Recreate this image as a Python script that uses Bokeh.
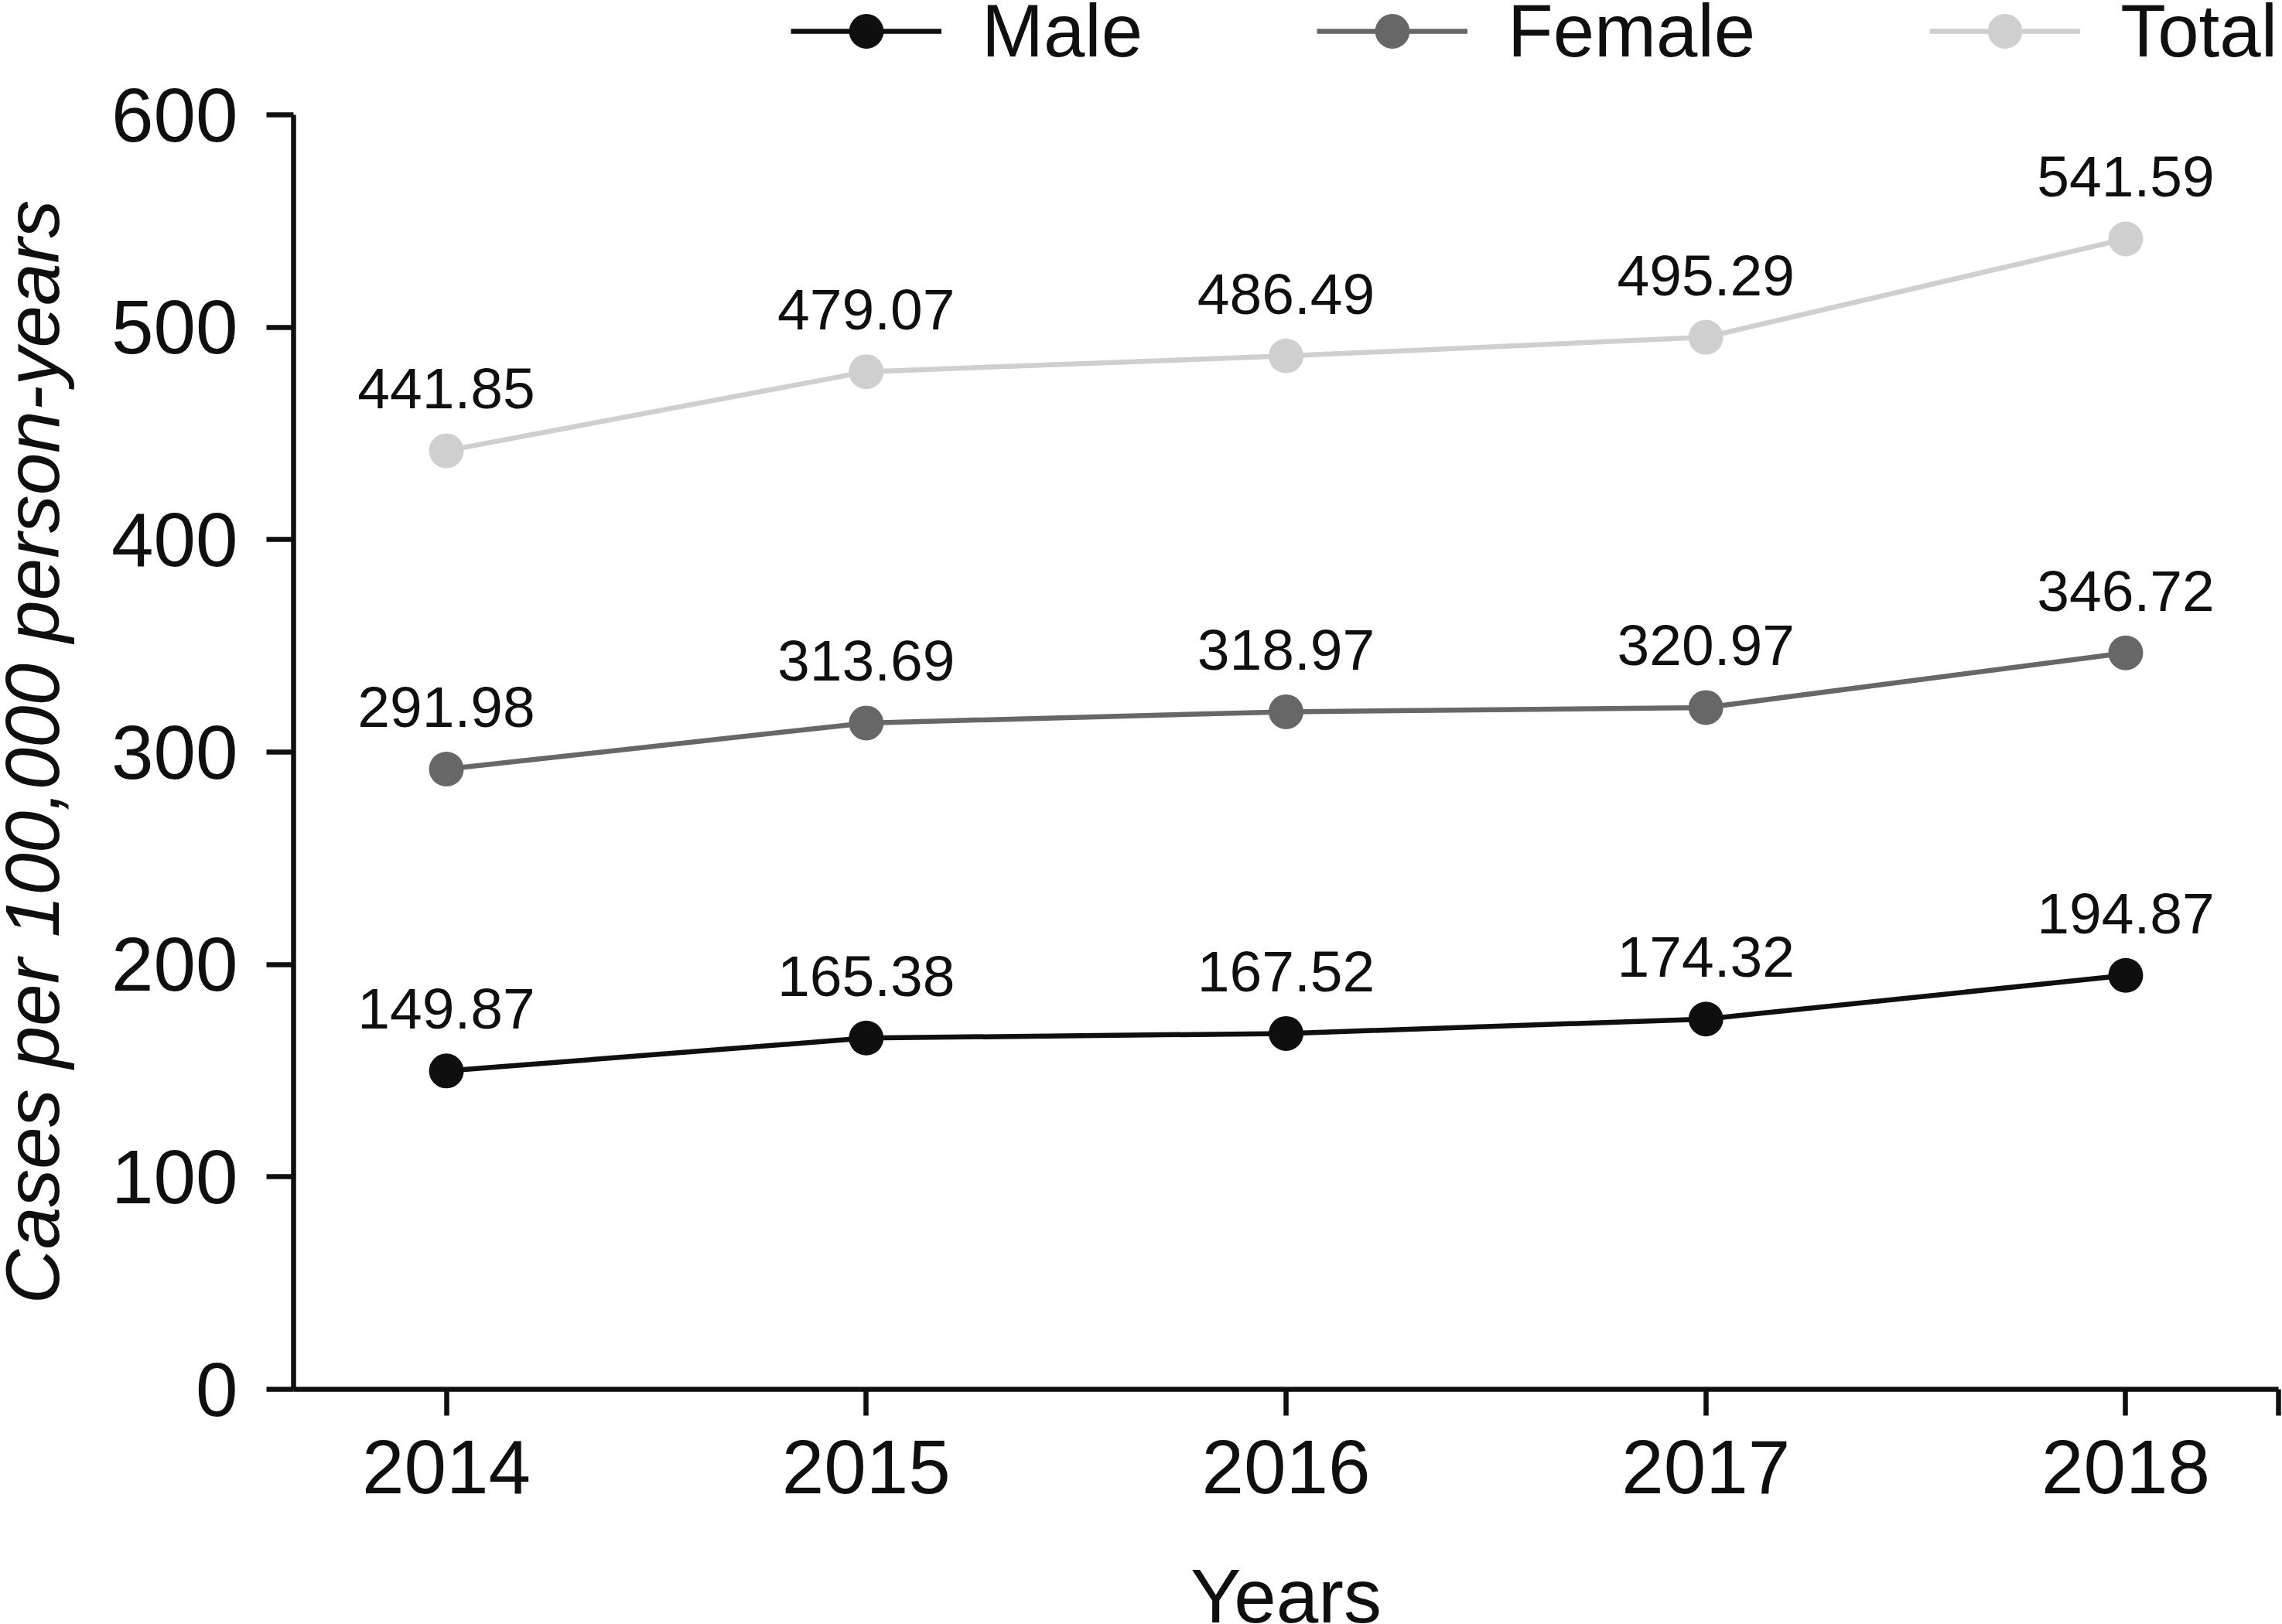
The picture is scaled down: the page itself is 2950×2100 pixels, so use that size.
import math
from bokeh.plotting import figure
from bokeh.models import (Range1d, FixedTicker, Legend, LegendItem, Label,
                          ColumnDataSource)
from bokeh.core.properties import value
from bokeh.embed import file_html
from bokeh.resources import INLINE

years = [2014, 2015, 2016, 2017, 2018]
male = [149.87, 165.38, 167.52, 174.32, 194.87]
female = [291.98, 313.69, 318.97, 320.97, 346.72]
total = [441.85, 479.07, 486.49, 495.29, 541.59]
series_names = ["Male", "Female", "Total"]
y_ticks = [0, 100, 200, 300, 400, 500, 600]
x_title = "Years"
y_title = "Cases per 100,000 person-years"

FONT = "Liberation Sans"
INK = "#0f0f0f"
colors = {"Male": "#0f0f0f", "Female": "#676767", "Total": "#cfcfcf"}

# canvas and axis-box geometry (pixels)
W, H = 2950, 2100
AX_L, AX_R, AX_T, AX_B = 379, 2945, 148, 1796
# data bounds of the axes
X0, X1 = 2013.636, 2018.364
Y0, Y1 = 0, 600

xs = (X1 - X0) / (AX_R - AX_L)
ys = (Y1 - Y0) / (AX_B - AX_T)
x_range = Range1d(X0 - AX_L * xs, X1 + (W - AX_R) * xs)
y_range = Range1d(Y0 - (H - AX_B) * ys, Y1 + AX_T * ys)

p = figure(width=W, height=H, output_backend="svg", toolbar_location=None,
           x_range=x_range, y_range=y_range, min_border=0,
           min_border_left=0, min_border_right=0, min_border_top=0,
           min_border_bottom=0)
p.outline_line_color = None
p.xgrid.grid_line_color = None
p.ygrid.grid_line_color = None
p.background_fill_color = "white"
p.border_fill_color = "white"

# axes drawn at fixed positions inside the canvas
p.xaxis.fixed_location = Y0
p.yaxis.fixed_location = X0
p.xaxis.bounds = (X0, X1)
p.yaxis.bounds = (Y0, Y1)
p.xaxis.ticker = FixedTicker(ticks=years + [X1])
p.xaxis.major_label_overrides = {X1: ""}
p.yaxis.ticker = FixedTicker(ticks=y_ticks)
for ax in (p.xaxis, p.yaxis):
    ax.axis_line_width = 6.5
    ax.axis_line_color = INK
    ax.major_tick_line_width = 6.5
    ax.major_tick_line_color = INK
    ax.major_tick_in = 0
    ax.minor_tick_line_color = None
    ax.major_label_text_font = FONT
    ax.major_label_text_font_size = "98px"
    ax.major_label_text_color = INK
p.xaxis.major_tick_out = 34
p.yaxis.major_tick_out = 35
p.xaxis.major_label_standoff = 32
p.yaxis.major_label_standoff = 37

data = {"Male": male, "Female": female, "Total": total}
items = []
for name in series_names:
    src = ColumnDataSource(dict(x=years, y=data[name],
                                lab=["%.2f" % v for v in data[name]]))
    c = colors[name]
    lr = p.line("x", "y", source=src, line_color=c, line_width=6.5)
    sr = p.scatter("x", "y", source=src, size=45, fill_color=c, line_color=c,
                   line_width=0)
    p.text("x", "y", text="lab", source=src, text_font=value(FONT),
           text_font_size="75px", text_color=INK, text_align="center",
           text_baseline="alphabetic", y_offset=-80)
    items.append(LegendItem(label=name, renderers=[lr, sr]))

legend = Legend(items=items, orientation="horizontal", location=(1022, H - 96),
                glyph_width=195, glyph_height=112, label_height=112,
                label_standoff=52, spacing=225, padding=0, margin=0,
                label_text_font=FONT, label_text_font_size="96px",
                label_text_color=INK, border_line_color=None,
                background_fill_alpha=0)
p.add_layout(legend, "center")

p.add_layout(Label(x=(AX_L + AX_R) / 2, y=37, x_units="screen",
                   y_units="screen", text=x_title, text_align="center",
                   text_baseline="alphabetic", text_font=FONT,
                   text_font_size="98px", text_color=INK))
p.add_layout(Label(x=41, y=H - (AX_T + AX_B) / 2, x_units="screen",
                   y_units="screen", angle=math.pi / 2, text=y_title,
                   text_align="center", text_baseline="alphabetic",
                   text_font=FONT, text_font_style="italic",
                   text_font_size="98px", text_color=INK))

open("out.html", "w").write(file_html(p, INLINE))
